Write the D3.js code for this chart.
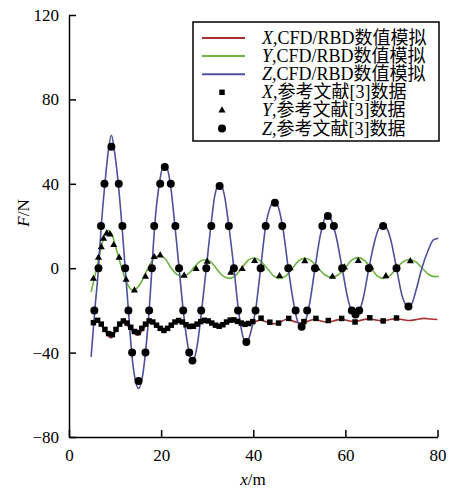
<!DOCTYPE html>
<html><head><meta charset="utf-8">
<script src="https://cdn.jsdelivr.net/npm/d3@7"></script>
<style>
body{margin:0;background:#fff;}
text{font-family:"Liberation Serif","Times New Roman","Noto Sans CJK SC",serif;fill:#000;}
</style></head>
<body><svg id="c" width="450" height="490"></svg>
<script>
// ---- data ----
const xTicks = [0, 20, 40, 60, 80];
const yTicks = [-80, -40, 0, 40, 80, 120];

// CFD/RBD simulation lines [x, F]
const xLine = [[5,-27],[6.2,-24.7],[7.6,-29],[9.1,-33],[10.4,-29],[11.6,-25.2],[13.2,-28.5],[14.9,-31.8],[16.4,-28],[17.8,-24.7],[19.2,-27.5],[20.7,-29.8],[22.4,-27],[24.0,-24.6],[25.3,-26.5],[26.6,-27.9],[28.2,-26.2],[29.8,-24.6],[31.2,-26.2],[32.7,-27.7],[34.2,-26.2],[35.6,-24.8],[37.0,-26],[38.5,-26.9],[40.0,-25.8],[41.5,-24.6],[43.0,-25.6],[44.5,-26.4],[45.9,-25.4],[47.3,-24.2],[48.8,-25.2],[50.3,-26],[51.8,-25.2],[53.2,-24.3],[54.7,-25],[56.2,-25.6],[57.6,-24.9],[59,-24.2],[60.5,-24.8],[62,-25.3],[63.5,-24.6],[65,-24],[66.5,-24.5],[68,-25],[69.5,-24.4],[71,-23.9],[72.5,-24.4],[74,-24.8],[75.5,-24.3],[77,-23.8],[78.5,-24.1],[80,-24.3]];
const yLine = [[4.8,-11.3],[5.8,-2],[6.8,8],[7.6,15],[8.5,17.8],[9.4,15.5],[10.4,8],[11.6,-1],[12.8,-8],[14.0,-10.5],[15.3,-8],[16.6,-2.5],[17.9,3],[19.5,6],[20.9,4.5],[22.2,0],[23.5,-3],[24.8,-3.8],[26.0,-2.5],[27.2,0.5],[28.3,3],[29.5,4],[30.8,3],[32.1,-0.5],[33.5,-3.8],[34.8,-4.8],[36.1,-3.6],[37.5,0],[38.8,3.6],[40.1,4.8],[41.5,3.6],[43,0],[44.4,-3.6],[45.8,-4.8],[47.1,-3.6],[48.5,0],[49.9,3.6],[51.2,4.7],[52.6,3.5],[54.1,0],[55.6,-3.2],[57.0,-4.2],[58.4,-3.2],[59.9,0],[61.3,3.7],[62.8,5],[64.2,3.6],[65.6,0],[66.9,-3.6],[68.3,-4.8],[69.7,-3.5],[71.1,0],[72.5,3],[73.9,4],[75.3,3],[76.7,0],[78.1,-3],[79.5,-4],[80.3,-3.8]];
const zLine = [[4.8,-42],[5.6,-20],[6.4,0],[7.0,20],[7.8,40],[8.5,55],[9.2,63],[9.9,55],[10.7,40],[11.5,20],[12.2,0],[12.9,-20],[13.6,-40],[14.3,-52],[15.1,-57],[15.9,-52],[16.6,-40],[17.4,-20],[18.0,0],[18.6,20],[19.6,40],[20.8,49.5],[22.0,40],[23.0,20],[23.9,0],[24.8,-20],[25.9,-38],[26.8,-44.6],[27.8,-37],[28.8,-20],[29.8,0],[30.8,20],[31.7,35],[32.7,40],[33.7,35],[34.7,20],[35.8,0],[36.8,-20],[37.6,-31],[38.5,-35.6],[39.5,-30],[40.5,-20],[41.6,0],[42.7,20],[43.7,29],[44.7,31.8],[45.7,27],[46.5,18],[47.6,0],[48.8,-17],[49.6,-25],[50.5,-27.8],[51.5,-24],[52.3,-16],[53.4,0],[54.6,16],[55.4,23],[56.2,25.4],[57.1,22],[58,15],[59.3,0],[60.6,-15],[61.4,-20.5],[62.2,-22.5],[63.0,-20.5],[63.9,-14],[65.1,0],[66.5,14],[67.3,19],[68.2,20.5],[69.1,18.5],[69.9,13],[71.1,0],[72.3,-13],[73.0,-17],[73.7,-18.6],[74.5,-16.5],[75.4,-10],[76.6,0],[78.0,8.6],[79.1,13.4],[80.2,14.2]];

// reference [3] data
const xRef = [[5.3,-25.8],[6.2,-24.7],[7.0,-26.5],[7.8,-29],[8.6,-31],[9.4,-31.5],[10.2,-29],[11.0,-26.5],[11.8,-25],[12.6,-26],[13.4,-28],[14.2,-30],[15.0,-30.5],[15.8,-28.5],[16.6,-26.5],[17.4,-25],[18.2,-25.5],[19.0,-27],[19.8,-28.5],[20.6,-29.5],[21.4,-28.5],[22.2,-27],[23.0,-25.5],[23.8,-24.8],[24.6,-25.5],[25.4,-26.8],[26.2,-27.6],[27.0,-27.5],[27.8,-26.5],[28.6,-25.3],[29.4,-24.7],[30.2,-25],[31.0,-26],[31.8,-27],[32.6,-27.5],[33.4,-26.8],[34.2,-25.5],[35.0,-24.6],[35.8,-24.5],[36.6,-25.2],[37.4,-26],[38.2,-26.6],[39.0,-26.2],[39.9,-25.3],[41.7,-23.7],[43.6,-25.6],[45.5,-26],[47.7,-23.8],[51.0,-25.3],[53.6,-23.8],[56.3,-24.8],[59.2,-23.8],[62.1,-25.5],[65.3,-23.5],[68.2,-25],[71.1,-23.6]];
const yRef = [[5.3,-5],[6.4,5],[7.0,10],[7.5,14],[8.2,16.5],[8.9,16],[9.7,11],[10.9,5],[12.4,-5.5],[14.2,-10.5],[16.6,-4],[17.8,0],[18.5,5.3],[19.8,6.1],[25.0,-3.5],[27.6,-0.4],[30.0,3.1],[35.1,-2.1],[37.6,-0.4],[40.3,3.4],[41.8,0],[45.7,-3.7],[48.0,0],[51.2,3.3],[53.8,0],[57.2,-4],[59.8,0.4],[62.8,3.4],[65.5,0.4],[68.8,-3.8],[71.1,0.4],[74.1,3.3]];
const zRef = [[5.5,-20],[6.4,0],[6.95,20],[7.7,40],[9.2,57.6],[10.8,40],[11.6,20],[12.2,0],[12.9,-20],[13.7,-40],[15.1,-53.5],[16.6,-40],[17.4,-20],[18.0,0],[18.5,20],[19.8,40],[20.8,48],[22.1,40],[23.1,20],[23.9,0],[24.8,-20],[26.1,-40],[26.8,-43.8],[28.7,-20],[29.8,0],[30.9,20],[32.7,39],[34.7,20],[35.8,0],[36.7,-20],[38.5,-35],[40.5,-20],[41.6,0],[42.7,20],[44.7,31],[46.3,20],[47.6,0],[49.2,-20],[50.5,-27.7],[51.7,-20],[53.4,0],[55.0,20],[56.2,24.7],[57.5,20],[59.3,0],[61.4,-20],[62.2,-22],[63.0,-20],[65.1,0],[68.2,20],[71.1,0],[73.7,-18.2]];

const lineNames = ["X", "Y", "Z"];
const lineSuffix = ",CFD/RBD数值模拟";
const refSuffix = ",参考文献[3]数据";
const colors = ["#a3302f", "#6db33f", "#4f4f9c"];

// ---- drawing ----
const svg = d3.select("#c");
const x = d3.scaleLinear().domain([0, 80]).range([69, 437.5]);
const y = d3.scaleLinear().domain([-80, 120]).range([437, 15]);

const line = d3.line().x(d => x(d[0])).y(d => y(d[1])).curve(d3.curveMonotoneX);
[xLine, yLine, zLine].forEach((data, i) => {
  svg.append("path").datum(data).attr("d", line)
    .attr("fill", "none").attr("stroke", colors[i]).attr("stroke-width", 1.6);
});

const sqSym = d3.symbol().type(d3.symbolSquare).size(30);
const triSym = d3.symbol().type(d3.symbolTriangle).size(22);
const circSym = d3.symbol().type(d3.symbolCircle).size(50);

svg.append("g").selectAll("path").data(xRef).join("path")
  .attr("d", sqSym).attr("transform", d => `translate(${x(d[0])},${y(d[1])})`).attr("fill", "#000");
svg.append("g").selectAll("path").data(yRef).join("path")
  .attr("d", triSym).attr("transform", d => `translate(${x(d[0])},${y(d[1])})`).attr("fill", "#000");
svg.append("g").selectAll("path").data(zRef).join("path")
  .attr("d", circSym).attr("transform", d => `translate(${x(d[0])},${y(d[1])})`).attr("fill", "#000");

// axes
const xAxis = d3.axisBottom(x).tickValues(xTicks).tickSize(-7).tickPadding(12).tickSizeOuter(0);
const gx = svg.append("g").attr("transform", `translate(0,${y(-80)})`).call(xAxis);
const yAxis = d3.axisLeft(y).tickValues(yTicks).tickSize(-7).tickPadding(10).tickSizeOuter(0);
const gy = svg.append("g").attr("transform", `translate(${x(0)},0)`).call(yAxis);
[gx, gy].forEach(g => {
  g.select(".domain").attr("stroke", "#000").attr("stroke-width", 1.5);
  g.selectAll(".tick line").attr("stroke", "#000").attr("stroke-width", 1.5);
  g.selectAll(".tick text").attr("font-size", 17).attr("font-family", "Liberation Serif").attr("fill", "#000");
});

// axis titles
const xt = svg.append("text").attr("x", 253).attr("y", 485).attr("text-anchor", "middle").attr("font-size", 17);
xt.append("tspan").attr("font-style", "italic").text("x");
xt.append("tspan").text("/m");
const yt = svg.append("text").attr("transform", "translate(29,213) rotate(-90)").attr("text-anchor", "middle").attr("font-size", 17);
yt.append("tspan").attr("font-style", "italic").text("F");
yt.append("tspan").text("/N");

// legend
const lg = svg.append("g");
lg.append("rect").attr("x", 193).attr("y", 22).attr("width", 246).attr("height", 119)
  .attr("fill", "#fff").attr("stroke", "#000").attr("stroke-width", 1.5);
const rowY = i => 38 + i * 18.1;
lineNames.forEach((n, i) => {
  lg.append("line").attr("x1", 202).attr("x2", 245).attr("y1", rowY(i)).attr("y2", rowY(i))
    .attr("stroke", colors[i]).attr("stroke-width", 2);
  const t = lg.append("text").attr("x", 262).attr("y", rowY(i) + 6).attr("font-size", 18);
  t.append("tspan").attr("font-style", "italic").text(n);
  t.append("tspan").text(lineSuffix);
});
const syms = [sqSym, triSym, circSym];
lineNames.forEach((n, i) => {
  const r = i + 3;
  lg.append("path").attr("d", syms[i]).attr("transform", `translate(222,${rowY(r)})`).attr("fill", "#000");
  const t = lg.append("text").attr("x", 262).attr("y", rowY(r) + 6).attr("font-size", 18);
  t.append("tspan").attr("font-style", "italic").text(n);
  t.append("tspan").text(refSuffix);
});
</script></body></html>
